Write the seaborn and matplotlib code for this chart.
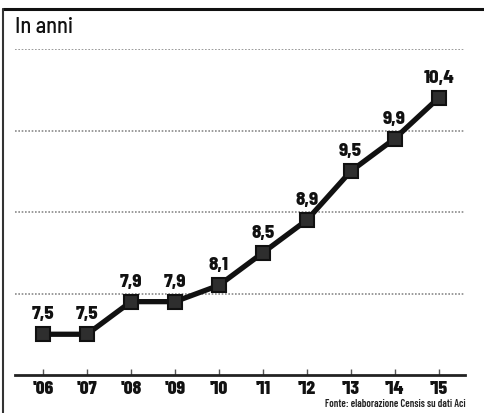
import matplotlib
matplotlib.use("Agg")
import matplotlib.pyplot as plt
import seaborn as sns
import pandas as pd

years = ["'06", "'07", "'08", "'09", "'10", "'11", "'12", "'13", "'14", "'15"]
eta_media = [7.5, 7.5, 7.9, 7.9, 8.1, 8.5, 8.9, 9.5, 9.9, 10.4]
grid_levels = [8, 9, 10, 11]
subtitle = "In anni"
source = "Fonte: elaborazione Censis su dati Aci"

sns.set_theme(style="white")
plt.rcParams["font.family"] = ["Barlow Condensed", "DejaVu Sans"]
semi = ["Barlow Semi Condensed", "Barlow Condensed", "DejaVu Sans"]

df = pd.DataFrame({"anno": years, "eta": eta_media, "pos": range(len(years))})

fig = plt.figure(figsize=(4.85, 4.14), dpi=100)
ax = fig.add_axes([15 / 485, 38 / 414, 450 / 485, 326 / 414])

for g in grid_levels:
    ax.axhline(g, color="#8a8a8a", lw=1.2, ls=(0, (1, 1)), zorder=1)

sns.lineplot(data=df, x="pos", y="eta", ax=ax, color="#111111", lw=3.8,
             marker="s", markersize=9.5, markerfacecolor="#2e2e2e",
             markeredgecolor="#111111", markeredgewidth=1.5, zorder=3)

for x, y in zip(df["pos"], df["eta"]):
    ax.annotate(f"{y:.1f}".replace(".", ","), (x, y), xytext=(0, 11.5),
                textcoords="offset points", ha="center", va="baseline",
                fontsize=13.5, fontweight=800, color="#111111", family=semi)

ax.set_xlim(-0.64, 9.6)
ax.set_ylim(7, 11)
ax.set_xticks(list(df["pos"]))
ax.set_xticklabels(years, fontsize=14, fontweight=800, color="#111111")
ax.set_yticks([])
ax.set_xlabel("")
ax.set_ylabel("")
for s in ["top", "right", "left"]:
    ax.spines[s].set_visible(False)
ax.spines["bottom"].set_color("#222222")
ax.spines["bottom"].set_linewidth(2)
ax.tick_params(axis="x", direction="in", length=4.5, width=1, color="#555555",
               pad=3.5, bottom=True)

fig.text(15 / 485, 1 - 33 / 414, subtitle, fontsize=16, fontweight=500,
         color="#111111", ha="left", va="baseline", family=semi)
fig.text(466 / 485, 1 - 407 / 414, source, fontsize=7.5, fontweight=600,
         color="#222222", ha="right", va="baseline")

# frame: top rule and left rule
fig.add_artist(plt.Line2D([3 / 485, 1], [1 - 10 / 414, 1 - 10 / 414],
                          transform=fig.transFigure, color="#111111", lw=2.2))
fig.add_artist(plt.Line2D([3 / 485, 3 / 485], [0, 1 - 10 / 414],
                          transform=fig.transFigure, color="#333333", lw=1.5))

fig.savefig("out.png", dpi=100, facecolor="white")
